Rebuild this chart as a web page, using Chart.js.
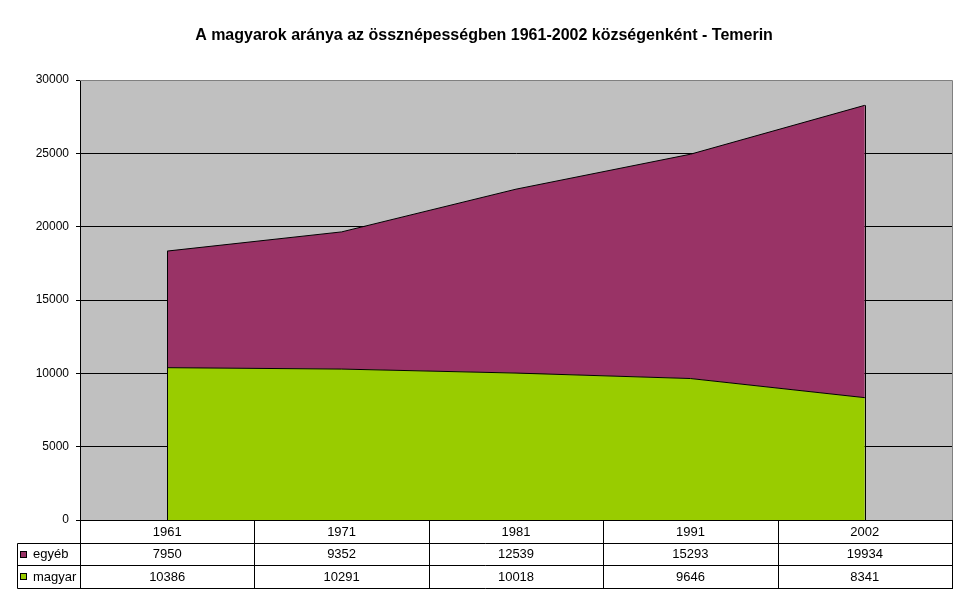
<!DOCTYPE html>
<html>
<head>
<meta charset="utf-8">
<title>Temerin</title>
<script src="https://cdn.jsdelivr.net/npm/chart.js@4/dist/chart.umd.min.js"></script>
<style>
  html, body { margin: 0; padding: 0; background: #fff; }
  canvas { display: block; }
</style>
</head>
<body>
<canvas id="chart" width="968" height="604"></canvas>
<script>
// Data
const years = ['1961', '1971', '1981', '1991', '2002'];
const magyar = [10386, 10291, 10018, 9646, 8341];
const egyeb = [7950, 9352, 12539, 15293, 19934];
const yTicks = [0, 5000, 10000, 15000, 20000, 25000, 30000];

const titleText = 'A magyarok aránya az össznépességben 1961-2002 községenként - Temerin';
const FONT = '"Liberation Sans", Arial, sans-serif';

const GREEN = '#99CC00';
const PURPLE = '#993366';
const PLOT_BG = '#C0C0C0';

// Plot background, border and the data table under the chart
const excelPlugin = {
    id: 'excelPlugin',
    beforeDraw(chart) {
        const { ctx, chartArea: a } = chart;
        ctx.save();
        ctx.fillStyle = PLOT_BG;
        ctx.fillRect(a.left, a.top, a.right - a.left, a.bottom - a.top);
        ctx.restore();
    },
    afterDraw(chart) {
        const { ctx, chartArea: a } = chart;
        const x = chart.scales.x;
        const y = chart.scales.y;
        ctx.save();

        // vertical edges of the areas at the first and last category
        ctx.strokeStyle = '#000';
        ctx.lineWidth = 1;
        chart.data.datasets.forEach((ds, i) => {
            const meta = chart.getDatasetMeta(i);
            [0, meta.data.length - 1].forEach(j => {
                const p = meta.data[j];
                const px = Math.round(p.x) + 0.5;
                ctx.beginPath();
                ctx.moveTo(px, p.y);
                ctx.lineTo(px, y.getPixelForValue(0));
                ctx.stroke();
            });
        });

        // plot border (top and right)
        ctx.strokeStyle = '#808080';
        ctx.beginPath();
        ctx.moveTo(a.left, Math.round(a.top) + 0.5);
        ctx.lineTo(Math.round(a.right) + 0.5, Math.round(a.top) + 0.5);
        ctx.lineTo(Math.round(a.right) + 0.5, a.bottom);
        ctx.stroke();

        // data table
        const rowH = 22.5;
        const top = a.bottom;
        const rows = [
            { label: 'egyéb', color: PURPLE, values: egyeb },
            { label: 'magyar', color: GREEN, values: magyar }
        ];
        const keyLeft = 17;
        const band = (x.getPixelForValue(1) - x.getPixelForValue(0));
        const edges = [];
        for (let i = 0; i <= years.length; i++) {
            edges.push(Math.round(x.getPixelForValue(i) - band / 2) + 0.5);
        }
        const hLine = (yy, x0, x1) => {
            ctx.beginPath();
            ctx.moveTo(x0, Math.round(yy) + 0.5);
            ctx.lineTo(x1, Math.round(yy) + 0.5);
            ctx.stroke();
        };
        const vLine = (xx, y0, y1) => {
            ctx.beginPath();
            ctx.moveTo(xx, Math.round(y0) + 0.5);
            ctx.lineTo(xx, Math.round(y1) + 0.5);
            ctx.stroke();
        };
        const bottom = top + rowH * (rows.length + 1);
        ctx.strokeStyle = '#000';
        hLine(top, edges[0], edges[edges.length - 1] + 0.5);
        hLine(top + rowH, keyLeft + 0.5, edges[edges.length - 1] + 0.5);
        hLine(top + rowH * 2, keyLeft + 0.5, edges[edges.length - 1] + 0.5);
        hLine(bottom, keyLeft + 0.5, edges[edges.length - 1] + 0.5);
        edges.forEach(e => vLine(e, top, bottom));
        vLine(keyLeft + 0.5, top + rowH, bottom);

        ctx.fillStyle = '#000';
        ctx.font = '13px ' + FONT;
        ctx.textBaseline = 'middle';
        ctx.textAlign = 'center';
        years.forEach((yr, i) => {
            ctx.fillText(yr, x.getPixelForValue(i), top + rowH / 2 + 1);
        });
        rows.forEach((r, ri) => {
            const cy = top + rowH * (ri + 1) + rowH / 2 + 1;
            ctx.textAlign = 'center';
            r.values.forEach((v, i) => {
                ctx.fillText(String(v), x.getPixelForValue(i), cy);
            });
            // legend key
            ctx.fillStyle = r.color;
            ctx.fillRect(20, Math.round(cy) - 4, 7, 7);
            ctx.strokeStyle = '#000';
            ctx.strokeRect(20.5, Math.round(cy) - 3.5, 6, 6);
            ctx.fillStyle = '#000';
            ctx.textAlign = 'left';
            ctx.fillText(r.label, 33, cy);
        });

        ctx.restore();
    }
};

new Chart(document.getElementById('chart'), {
    type: 'line',
    data: {
        labels: years,
        datasets: [
            {
                label: 'magyar',
                data: magyar,
                backgroundColor: GREEN,
                borderColor: '#000',
                borderWidth: 1,
                fill: 'origin',
                pointRadius: 0,
                tension: 0
            },
            {
                label: 'egyéb',
                data: egyeb,
                backgroundColor: PURPLE,
                borderColor: '#000',
                borderWidth: 1,
                fill: '-1',
                pointRadius: 0,
                tension: 0
            }
        ]
    },
    options: {
        responsive: false,
        animation: false,
        events: [],
        layout: {
            padding: { left: 16, right: 16, top: 0, bottom: 0 }
        },
        plugins: {
            legend: { display: false },
            tooltip: { enabled: false },
            title: {
                display: true,
                text: titleText,
                color: '#000',
                font: { family: FONT, size: 16, weight: 'bold', lineHeight: 1.2 },
                padding: { top: 26, bottom: 34.8 }
            }
        },
        scales: {
            x: {
                stacked: true,
                offset: true,
                ticks: { display: false },
                grid: { display: false },
                border: { display: false },
                afterFit: s => { s.height = 84; }
            },
            y: {
                stacked: true,
                min: 0,
                max: 30000,
                afterBuildTicks: s => { s.ticks = yTicks.map(v => ({ value: v })); },
                afterFit: s => { s.width = 64; },
                ticks: {
                    color: '#000',
                    padding: 7,
                    font: { family: FONT, size: 12 },
                    callback: v => String(v)
                },
                grid: {
                    color: ctx => (ctx.tick && ctx.tick.value === 30000) ? '#808080' : '#000',
                    tickColor: '#000',
                    tickLength: 4,
                    lineWidth: 1
                },
                border: { color: '#000', width: 1 }
            }
        }
    },
    plugins: [excelPlugin]
});
</script>
</body>
</html>
